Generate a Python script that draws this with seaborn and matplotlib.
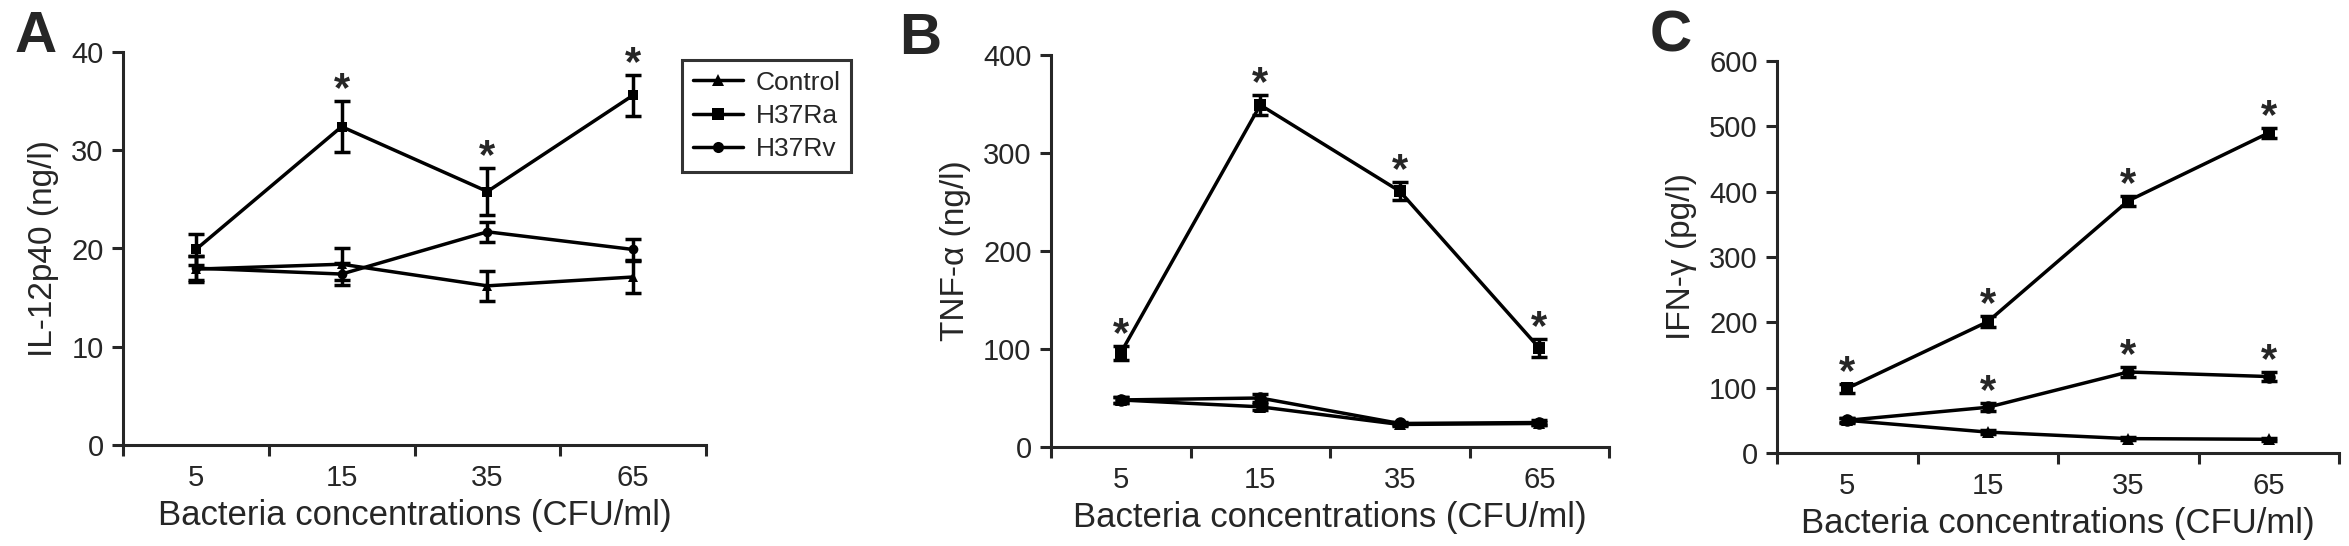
import numpy as np
import pandas as pd
import matplotlib
matplotlib.use('Agg')
import matplotlib.pyplot as plt
import seaborn as sns

# bacteria concentrations (CFU/ml), shown as categories
conc = ['5', '15', '35', '65']
groups = ['Control', 'H37Ra', 'H37Rv']

# A: IL-12p40 (ng/l)
il12_control = [17.9, 18.4, 16.2, 17.1]
il12_control_err = [1.3, 1.6, 1.5, 1.6]
il12_ra = [19.9, 32.4, 25.8, 35.6]
il12_ra_err = [1.6, 2.6, 2.4, 2.1]
il12_rv = [18.0, 17.4, 21.7, 19.9]
il12_rv_err = [1.2, 1.1, 1.0, 1.1]
il12_star_ra = [False, True, True, True]
il12_star_rv = [False, False, False, False]

# B: TNF-alpha (ng/l)
tnf_control = [48, 41, 23, 24]
tnf_control_err = [3, 3, 2, 2]
tnf_ra = [96, 349, 261, 101]
tnf_ra_err = [7, 10, 9, 9]
tnf_rv = [48, 50, 24, 25]
tnf_rv_err = [3, 4, 2, 3]
tnf_star_ra = [True, True, True, True]
tnf_star_rv = [False, False, False, False]

# C: IFN-gamma (pg/l)
ifn_control = [50, 32, 22, 21]
ifn_control_err = [3, 3, 2, 2]
ifn_ra = [99, 201, 386, 490]
ifn_ra_err = [7, 8, 8, 8]
ifn_rv = [50, 70, 124, 117]
ifn_rv_err = [4, 6, 7, 7]
ifn_star_ra = [True, True, True, True]
ifn_star_rv = [False, True, True, True]

sns.set_style('ticks')
plt.rcParams['font.family'] = ['Liberation Sans', 'DejaVu Sans']
plt.rcParams['axes.linewidth'] = 2.2

W, H = 2349, 546
fig = plt.figure(figsize=(W / 100, H / 100), dpi=100)

markers = {'Control': '^', 'H37Ra': 's', 'H37Rv': 'o'}


def make_df(ctrl, ctrl_e, ra, ra_e, rv, rv_e):
    rows = []
    for g, vals, errs in zip(groups, [ctrl, ra, rv], [ctrl_e, ra_e, rv_e]):
        for i, c in enumerate(conc):
            rows.append({'pos': i, 'conc': c, 'group': g, 'value': vals[i], 'err': errs[i]})
    return pd.DataFrame(rows)


def panel(rect, df, ylabel, ymax, ystep, star_ra, star_rv, letter, letter_xy, msize=8):
    ax = fig.add_axes(rect)
    sns.lineplot(data=df, x='pos', y='value', hue='group', style='group',
                 palette=['black'] * 3, markers=markers, dashes=False,
                 markersize=msize, markeredgewidth=0, linewidth=2.5,
                 ax=ax, legend=False, clip_on=False, zorder=3)
    for g in groups:
        d = df[df['group'] == g]
        ax.errorbar(d['pos'], d['value'], yerr=d['err'], fmt='none', ecolor='black',
                    elinewidth=2.5, capsize=6, capthick=2.5, clip_on=False, zorder=4)
    for g, flags in [('H37Ra', star_ra), ('H37Rv', star_rv)]:
        d = df[df['group'] == g].reset_index(drop=True)
        for i, f in enumerate(flags):
            if f:
                ax.annotate('*', (d['pos'][i], d['value'][i] + d['err'][i]),
                            xytext=(0, 0), textcoords='offset points',
                            ha='center', va='baseline', fontsize=30,
                            fontweight='bold', annotation_clip=False)
    ax.set_xlim(-0.5, 3.5)
    ax.set_ylim(0, ymax)
    ax.set_yticks(np.arange(0, ymax + ystep / 2, ystep))
    ax.set_xticks(range(len(conc)))
    ax.set_xticklabels(conc)
    ax.set_xticks(np.arange(-0.5, 3.6, 1.0), minor=True)
    ax.tick_params(axis='x', which='major', length=0, pad=14, labelsize=21)
    ax.tick_params(axis='x', which='minor', length=8, width=2.2, direction='out')
    ax.tick_params(axis='y', length=8, width=2.2, pad=6, labelsize=21)
    sns.despine(ax=ax)
    ax.set_xlabel('Bacteria concentrations (CFU/ml)', fontsize=25, labelpad=5)
    ax.set_ylabel(ylabel, fontsize=24, labelpad=9)
    fig.text(letter_xy[0] / W, 1 - letter_xy[1] / H, letter, fontsize=42,
             fontweight='bold', ha='left', va='baseline')
    return ax


df_a = make_df(il12_control, il12_control_err, il12_ra, il12_ra_err, il12_rv, il12_rv_err)
df_b = make_df(tnf_control, tnf_control_err, tnf_ra, tnf_ra_err, tnf_rv, tnf_rv_err)
df_c = make_df(ifn_control, ifn_control_err, ifn_ra, ifn_ra_err, ifn_rv, ifn_rv_err)

ax_a = panel([123 / W, 1 - 445 / H, (706 - 123) / W, (445 - 52) / H], df_a,
             'IL-12p40 (ng/l)', 40, 10, il12_star_ra, il12_star_rv, 'A', (15, 52), msize=7)
ax_b = panel([1051 / W, 1 - 447 / H, (1609 - 1051) / W, (447 - 55) / H], df_b,
             'TNF-α (ng/l)', 400, 100, tnf_star_ra, tnf_star_rv, 'B', (899, 54), msize=9)
ax_c = panel([1777 / W, 1 - 453 / H, (2339 - 1777) / W, (453 - 61) / H], df_c,
             'IFN-γ (pg/l)', 600, 100, ifn_star_ra, ifn_star_rv, 'C', (1650, 52), msize=9)

handles = [plt.Line2D([], [], color='black', lw=2.5, marker=markers[g], markersize=8,
                      markeredgewidth=0) for g in groups]
leg = ax_a.legend(handles, groups, loc='upper left', bbox_to_anchor=(682 / W, 1 - 60 / H),
                  bbox_transform=fig.transFigure, fontsize=19, frameon=True, fancybox=False,
                  handlelength=1.9, handletextpad=0.5, borderpad=0.4, labelspacing=0.35,
                  borderaxespad=0)
leg.get_frame().set_edgecolor('black')
leg.get_frame().set_linewidth(2.2)

fig.savefig('out.png', dpi=100)
